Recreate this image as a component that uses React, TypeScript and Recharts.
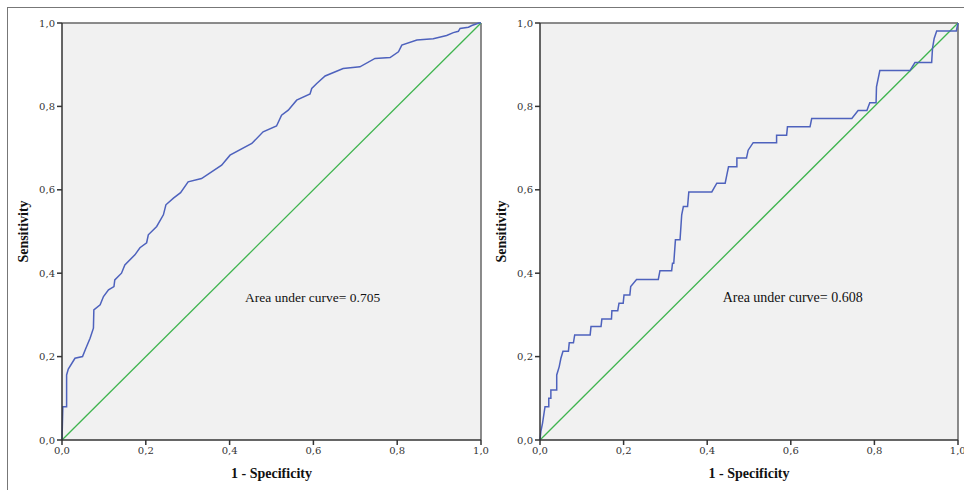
import React from "react";
import {
    CartesianGrid,
    LineChart,
    Line,
    XAxis,
    YAxis,
    ReferenceLine,
    ReferenceDot,
} from "recharts";

// ROC points: [1 - specificity, sensitivity]
const leftFpr = [
    0, 0.002, 0.011, 0.011, 0.015, 0.031, 0.049, 0.057, 0.067, 0.075, 0.076, 0.091, 0.099, 0.111,
    0.124, 0.126, 0.142, 0.15, 0.174, 0.186, 0.202, 0.206, 0.226, 0.242, 0.248, 0.266, 0.283,
    0.301, 0.333, 0.381, 0.401, 0.453, 0.48, 0.512, 0.524, 0.54, 0.56, 0.592, 0.596, 0.608, 0.628,
    0.671, 0.711, 0.747, 0.783, 0.803, 0.811, 0.847, 0.886, 0.918, 0.934, 0.946, 0.95, 0.97, 0.978,
    0.995, 1,
];
const leftTpr = [
    0, 0.08, 0.08, 0.156, 0.17, 0.196, 0.2, 0.22, 0.244, 0.268, 0.312, 0.324, 0.344, 0.36, 0.368,
    0.384, 0.4, 0.42, 0.444, 0.461, 0.473, 0.492, 0.512, 0.54, 0.564, 0.58, 0.593, 0.619, 0.627,
    0.659, 0.683, 0.711, 0.739, 0.753, 0.779, 0.791, 0.815, 0.83, 0.843, 0.855, 0.873, 0.891,
    0.895, 0.915, 0.917, 0.931, 0.947, 0.959, 0.962, 0.97, 0.977, 0.98, 0.987, 0.99, 0.994, 1, 1,
];

const rightFpr = [
    0, 0.002, 0.006, 0.012, 0.021, 0.021, 0.026, 0.026, 0.04, 0.04, 0.046, 0.05, 0.055, 0.068,
    0.07, 0.08, 0.083, 0.12, 0.122, 0.146, 0.148, 0.171, 0.172, 0.186, 0.189, 0.199, 0.201, 0.215,
    0.217, 0.231, 0.283, 0.287, 0.315, 0.317, 0.32, 0.324, 0.335, 0.339, 0.343, 0.353, 0.356,
    0.411, 0.423, 0.443, 0.447, 0.451, 0.471, 0.471, 0.494, 0.498, 0.51, 0.566, 0.566, 0.59,
    0.592, 0.646, 0.65, 0.746, 0.761, 0.782, 0.789, 0.804, 0.805, 0.813, 0.885, 0.897, 0.937,
    0.939, 0.943, 0.949, 0.996, 1,
];
const rightTpr = [
    0, 0.02, 0.04, 0.08, 0.08, 0.1, 0.1, 0.12, 0.12, 0.156, 0.176, 0.196, 0.213, 0.213, 0.233,
    0.233, 0.252, 0.252, 0.272, 0.272, 0.29, 0.29, 0.31, 0.31, 0.328, 0.328, 0.348, 0.348, 0.368,
    0.385, 0.385, 0.406, 0.406, 0.424, 0.424, 0.48, 0.48, 0.54, 0.56, 0.56, 0.595, 0.595, 0.616,
    0.616, 0.636, 0.655, 0.655, 0.676, 0.676, 0.695, 0.713, 0.713, 0.731, 0.731, 0.751, 0.751,
    0.771, 0.771, 0.79, 0.79, 0.809, 0.809, 0.847, 0.886, 0.886, 0.905, 0.905, 0.939, 0.963,
    0.981, 0.981, 1,
];

const diagonal = [
    {x: 0, y: 0},
    {x: 1, y: 1},
];

const ticks = [0, 0.2, 0.4, 0.6, 0.8, 1];

const toPoints = (xs: number[], ys: number[]) => xs.map((x, i) => ({x, y: ys[i]}));

const fmt = (v: number) => v.toFixed(1).replace(".", ",");

const serif = "'Liberation Serif', 'Times New Roman', serif";
const tickStyle = {fontSize: 10, fill: "#333", fontFamily: "'DejaVu Serif', serif"};

interface RocPanelProps {
    points: {x: number; y: number}[];
    auc: string;
    aucSize: number;
    left: number;
    width: number;
    rightMargin: number;
}

const RocPanel: React.FC<RocPanelProps> = ({points, auc, aucSize, left, width, rightMargin}) => {
    const yTitle = (props: any) => {
        const vb = props.viewBox;
        const cx = vb.x + 1;
        const cy = vb.y + vb.height / 2;
        return (
            <text
                x={cx}
                y={cy}
                transform={`rotate(-90 ${cx} ${cy})`}
                textAnchor="middle"
                dominantBaseline="central"
                fontFamily={serif}
                fontWeight="bold"
                fontSize={14}
                fill="#111"
            >
                Sensitivity
            </text>
        );
    };
    const xTitle = (props: any) => {
        const vb = props.viewBox;
        return (
            <text
                x={vb.x + vb.width / 2}
                y={vb.y + 33}
                textAnchor="middle"
                dominantBaseline="central"
                fontFamily={serif}
                fontWeight="bold"
                fontSize={14}
                fill="#111"
            >
                1 - Specificity
            </text>
        );
    };

    return (
        <div style={{position: "absolute", left, top: 0}}>
            <LineChart
                width={width}
                height={490}
                margin={{top: 23, right: rightMargin, bottom: 20, left: 22}}
            >
                <CartesianGrid fill="#f1f1f1" horizontal={false} vertical={false} />
                <XAxis
                    type="number"
                    dataKey="x"
                    domain={[0, 1]}
                    ticks={ticks}
                    tickFormatter={fmt}
                    height={30}
                    tickSize={5}
                    tick={tickStyle}
                    stroke="#333"
                    strokeWidth={1.5}
                    label={{content: xTitle}}
                />
                <YAxis
                    type="number"
                    dataKey="y"
                    domain={[0, 1]}
                    ticks={ticks}
                    tickFormatter={fmt}
                    width={40}
                    tickSize={5}
                    tick={tickStyle}
                    stroke="#333"
                    strokeWidth={1.5}
                    label={{content: yTitle}}
                />
                <ReferenceLine y={1} stroke="#666" strokeWidth={1.5} />
                <ReferenceLine x={1} stroke="#666" strokeWidth={1.5} />
                <Line
                    data={diagonal}
                    dataKey="y"
                    type="linear"
                    stroke="#3fb44f"
                    strokeWidth={1.3}
                    dot={false}
                    isAnimationActive={false}
                />
                <Line
                    data={points}
                    dataKey="y"
                    type="linear"
                    stroke="#4e62bd"
                    strokeWidth={1.5}
                    dot={false}
                    isAnimationActive={false}
                />
                <ReferenceDot
                    x={0.437}
                    y={0.343}
                    r={0}
                    stroke="none"
                    fill="none"
                    label={{
                        value: auc,
                        position: "right",
                        offset: 0,
                        fontFamily: serif,
                        fontSize: aucSize,
                        fill: "#111",
                    }}
                />
            </LineChart>
        </div>
    );
};

export default function App() {
    return (
        <div
            style={{
                position: "absolute",
                left: 0,
                top: 0,
                width: 964,
                height: 490,
                background: "#fff",
                overflow: "hidden",
            }}
        >
            <div
                style={{
                    position: "absolute",
                    left: 7,
                    top: 7,
                    width: 970,
                    height: 500,
                    borderTop: "1.5px solid #777",
                    borderLeft: "1.5px solid #777",
                }}
            />
            <RocPanel
                points={toPoints(leftFpr, leftTpr)}
                auc="Area under curve= 0.705"
                aucSize={13.5}
                left={0}
                width={490}
                rightMargin={9}
            />
            <RocPanel
                points={toPoints(rightFpr, rightTpr)}
                auc="Area under curve= 0.608"
                aucSize={14}
                left={478}
                width={486}
                rightMargin={6}
            />
        </div>
    );
}
